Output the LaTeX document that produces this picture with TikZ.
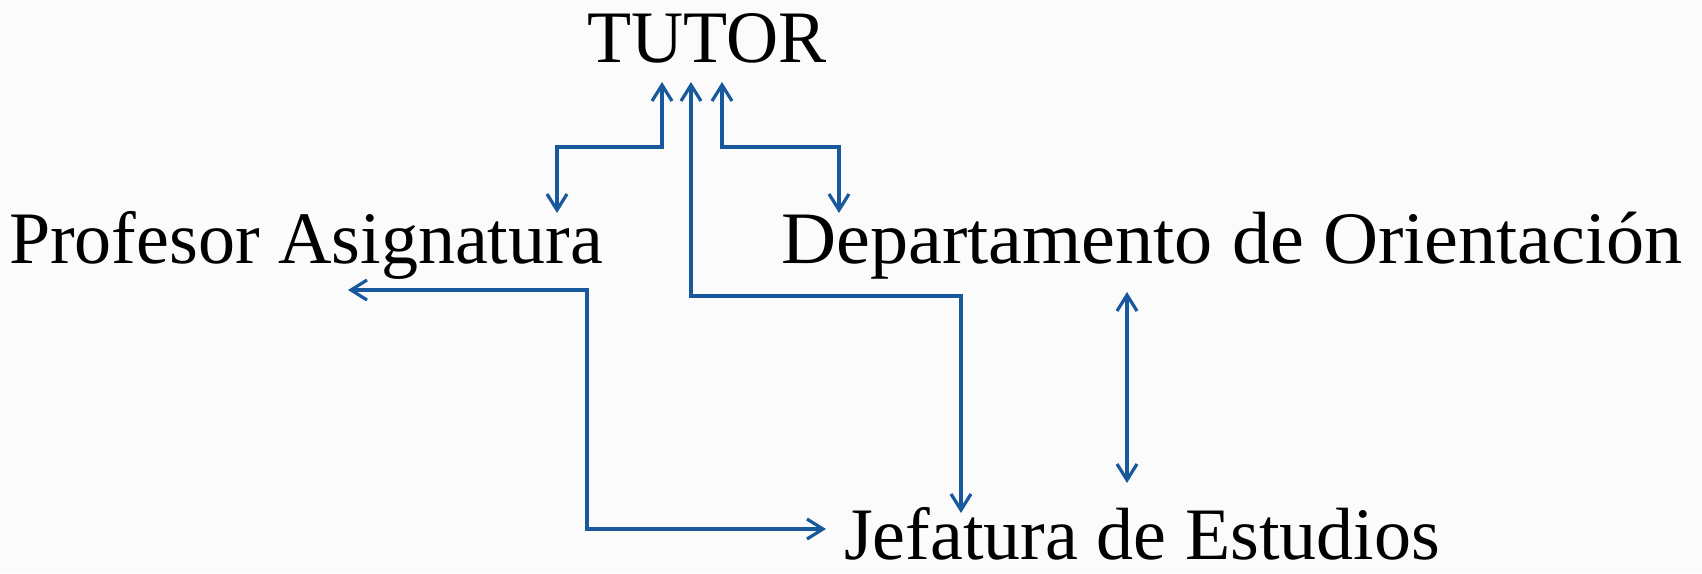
\documentclass[tikz,border=0pt]{standalone}
\usepackage{fontspec}
\setmainfont{Liberation Serif}
\usepackage{tikz}
\usetikzlibrary{arrows.meta}
\definecolor{linkblue}{RGB}{24,88,156}
\definecolor{paper}{RGB}{251,251,251}
\tikzset{
  lbl/.style={anchor=base,font=\fontsize{37}{40}\selectfont},
  link/.style={draw=linkblue,line width=1.6pt,line join=miter},
}
\begin{document}
\begin{tikzpicture}[x=0.5pt,y=-0.5pt,>={Straight Barb[length=8pt,width=10pt]}]
    \fill[paper] (0,0) rectangle (1702,573);
    \useasboundingbox (0,0) rectangle (1702,573);
    \node[lbl,xscale=0.975] (tutor) at (707,62) {TUTOR};
    \node[lbl] (prof) at (306,263) {Profesor Asignatura};
    \node[lbl,xscale=1.03] (depto) at (1232,263) {Departamento de Orientación};
    \node[lbl] (jefe) at (1142,559) {Jefatura de Estudios};
    % free ends of the arrows
    \coordinate (tA) at (662,82);
    \coordinate (tB) at (691,82);
    \coordinate (tC) at (722,82);
    \coordinate (pA) at (557,213);
    \coordinate (dA) at (839,213);
    \coordinate (pB) at (348,290);
    \coordinate (jB) at (826,529);
    \coordinate (jC) at (961,513);
    \coordinate (dD) at (1127,292);
    \coordinate (jD) at (1127,483);
    \draw[link,<->] (tA) -- (tA |- 0,147) -- (pA |- 0,147) -- (pA);
    \draw[link,<->] (tC) -- (tC |- 0,147) -- (dA |- 0,147) -- (dA);
    \draw[link,<->] (tB) -- (tB |- 0,296) -- (jC |- 0,296) -- (jC);
    \draw[link,<->] (pB) -- (587,290) -- (587,529) -- (jB);
    \draw[link,<->] (dD) -- (jD);
  \end{tikzpicture}
\end{document}
